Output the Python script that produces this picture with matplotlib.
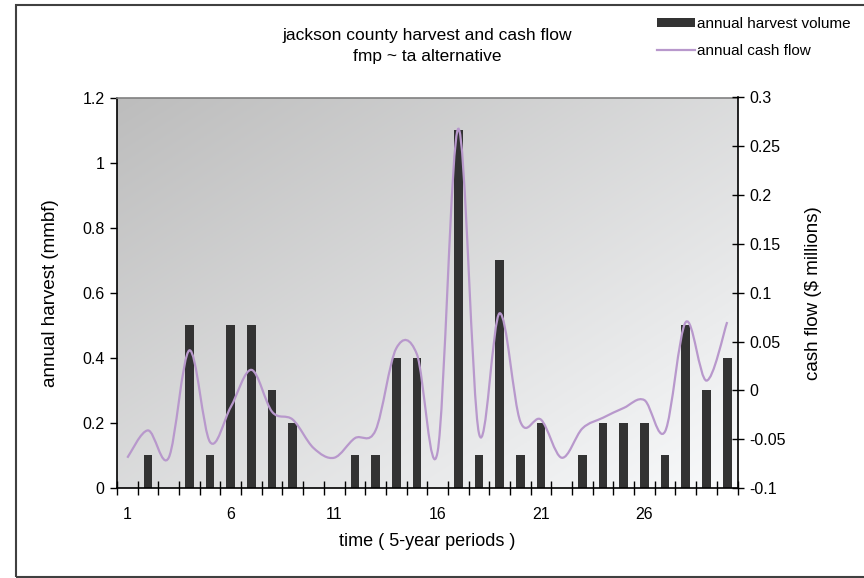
import matplotlib
matplotlib.use('Agg')
import matplotlib.pyplot as plt
import numpy as np
from matplotlib.path import Path
from matplotlib.patches import PathPatch, Rectangle, Patch
from matplotlib.lines import Line2D
from matplotlib.ticker import FixedLocator, FuncFormatter

plt.rcParams['font.family'] = ['Liberation Sans', 'DejaVu Sans']

# 5-year periods 1..30
periods = list(range(1, 31))
harvest = [0, 0.1, 0, 0.5, 0.1, 0.5, 0.5, 0.3, 0.2, 0,
           0, 0.1, 0.1, 0.4, 0.4, 0, 1.1, 0.1, 0.7, 0.1,
           0.2, 0, 0.1, 0.2, 0.2, 0.2, 0.1, 0.5, 0.3, 0.4]
cash_flow = [-0.069, -0.041, -0.069, 0.041, -0.053, -0.017, 0.021, -0.022, -0.030, -0.059,
             -0.069, -0.049, -0.041, 0.043, 0.037, -0.063, 0.268, -0.044, 0.079, -0.032,
             -0.030, -0.069, -0.039, -0.028, -0.018, -0.010, -0.042, 0.070, 0.010, 0.070]
x_labels = ['1', '6', '11', '16', '21', '26']

bar_color = '#333333'
line_color = '#b898cc'

W, H = 864, 578
fig = plt.figure(figsize=(W / 100, H / 100), dpi=100)
fig.patch.set_facecolor('white')

# outer chart border
fig.patches.append(Rectangle((16 / W, 1 / H), 1.0, 1 - 6 / H, transform=fig.transFigure,
                             fill=False, edgecolor='#404040', linewidth=1.5))

left, right, top, bottom = 117, 737.5, 97.5, 488
ax = fig.add_axes([left / W, 1 - bottom / H, (right - left) / W, (bottom - top) / H])

# gradient background (gray top-left -> white bottom-right)
gx, gy = np.meshgrid(np.linspace(0, 1, 200), np.linspace(0, 1, 200))
t = np.clip((gx + gy) / 2, 0, 1)
c0 = np.array([0.74, 0.74, 0.74])
c1 = np.array([0.975, 0.98, 0.985])
img = c0[None, None, :] * (1 - t[..., None]) + c1[None, None, :] * t[..., None]
ax.imshow(img, extent=[0, 1, 0, 1], transform=ax.transAxes, aspect='auto', zorder=0)

ax.bar(periods, harvest, width=0.42, color=bar_color, zorder=2)
ax.set_xlim(0.5, 30.5)
ax.set_ylim(0, 1.2)
ax.set_yticks(np.arange(0, 1.21, 0.2))
ax.yaxis.set_major_formatter(FuncFormatter(lambda v, p: '%g' % round(v, 2)))
ax.xaxis.set_major_locator(FixedLocator([int(s) for s in x_labels]))
ax.set_xticklabels(x_labels)
ax.xaxis.set_minor_locator(FixedLocator(np.arange(0.5, 31, 1)))
ax.tick_params(axis='x', which='major', length=0, pad=14, labelsize=11.5)
ax.tick_params(axis='x', which='minor', direction='inout', length=10, width=1, color='black')
ax.tick_params(axis='y', direction='out', length=5, width=1, labelsize=11.5, pad=4)
for s in ['left', 'bottom']:
    ax.spines[s].set_color('black')
    ax.spines[s].set_linewidth(1.2)
ax.spines['right'].set_visible(False)
ax.spines['top'].set_color('#808080')
ax.spines['top'].set_linewidth(1.2)

ax2 = ax.twinx()
ax2.set_ylim(-0.1, 0.3)
ax2.set_yticks(np.arange(-0.1, 0.301, 0.05))
ax2.yaxis.set_major_formatter(FuncFormatter(lambda v, p: '%g' % round(v, 2)))
ax2.tick_params(axis='y', direction='inout', length=9, width=1, labelsize=11.5, pad=4)
for s in ['left', 'top', 'bottom']:
    ax2.spines[s].set_visible(False)
ax2.spines['right'].set_color('black')
ax2.spines['right'].set_linewidth(1.2)

# smoothed line (bezier through the points, like Excel's smoothed line)
px = np.array(periods, dtype=float)
py = np.array(cash_flow)
n = len(px)
verts = [(px[0], py[0])]
codes = [Path.MOVETO]
for i in range(n - 1):
    i0 = max(i - 1, 0)
    i3 = min(i + 2, n - 1)
    c1x = px[i] + (px[i + 1] - px[i0]) / 6
    c1y = py[i] + (py[i + 1] - py[i0]) / 6
    c2x = px[i + 1] - (px[i3] - px[i]) / 6
    c2y = py[i + 1] - (py[i3] - py[i]) / 6
    verts += [(c1x, c1y), (c2x, c2y), (px[i + 1], py[i + 1])]
    codes += [Path.CURVE4] * 3
ax2.add_patch(PathPatch(Path(verts, codes), fill=False, edgecolor=line_color,
                        linewidth=1.6, zorder=3))

ax.set_ylabel('annual harvest (mmbf)', fontsize=13.5)
ax.yaxis.set_label_coords((59 - left) / (right - left), 0.5)
ax2.set_ylabel('cash flow ($ millions)', fontsize=13.5)
ax2.yaxis.set_label_coords((805 - left) / (right - left), 0.5)
ax.set_xlabel('time ( 5-year periods )', fontsize=13)
ax.xaxis.set_label_coords(0.5, (bottom - 533) / (bottom - top))

fig.text(427.5 / W, 1 - 46 / H, 'jackson county harvest and cash flow\nfmp ~ ta alternative',
         ha='center', va='center', fontsize=12.5, linespacing=1.55)

handles = [Patch(facecolor=bar_color, edgecolor='none'),
           Line2D([], [], color=line_color, linewidth=1.6)]
fig.legend(handles, ['annual harvest volume', 'annual cash flow'],
           loc='upper left', bbox_to_anchor=(657 / W, 1 - 17 / H),
           frameon=False, fontsize=11, handlelength=2.5, handleheight=0.45,
           handletextpad=0.15, borderpad=0, borderaxespad=0, labelspacing=0.85)

fig.savefig('out.png', dpi=100)
